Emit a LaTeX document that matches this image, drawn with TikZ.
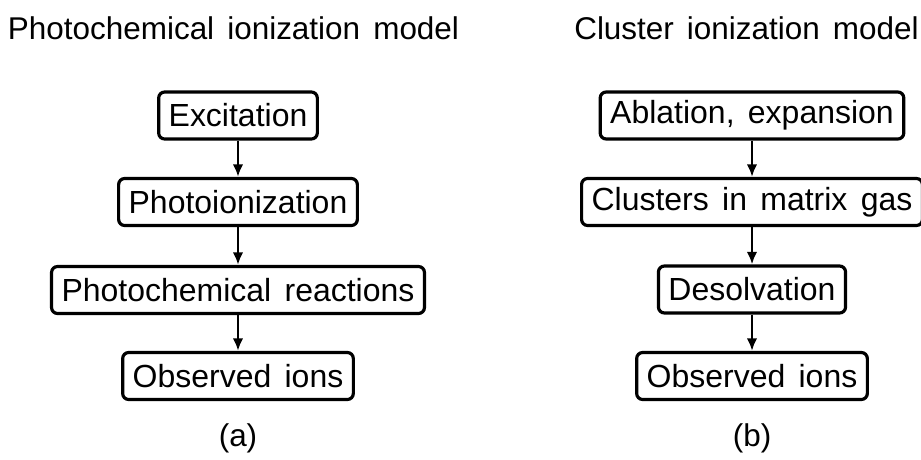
\documentclass[tikz,border=0pt]{standalone}
\usepackage{fontspec}
\setmainfont[WordSpace=1.5]{Liberation Sans}
\usetikzlibrary{arrows.meta}
\usetikzlibrary{calc}

\tikzset{
    stage/.style = {draw = black, rounded corners = 0.12cm, line width = 1.8pt,
                    inner xsep = 0.2cm, minimum height = 0.94cm,
                    font = \fontsize{18.2}{22}\selectfont},
    flow/.style = {-{Latex[length = 0.25cm, width = 0.21cm]}, line width = 1.5pt},
    heading/.style = {font = \fontsize{17.9}{22}\selectfont}
}

\begin{document}
\begin{tikzpicture}

\useasboundingbox (0,0) rectangle (18.42,-9.18);

\pgfmathsetmacro{\xa}{4.76}
\pgfmathsetmacro{\xb}{15.04}

% titles
\node[heading] (titleA) at (4.67,-0.56) {Photochemical ionization model};
\node[heading] (titleB) at (14.93,-0.56) {Cluster ionization model};

% (a) photochemical
\foreach \ROW/\Y/\TEXT in {
                        1/-2.31/ Excitation,
                        2/-4.04/ Photoionization,
                        3/-5.80/ Photochemical reactions,
                        4/-7.52/ Observed ions}{
    \node[stage] (A\ROW) at (\xa,\Y) {\TEXT};
    };

% (b) cluster
\foreach \ROW/\Y/\TEXT in {
                        1/-2.31/ {Ablation, expansion},
                        2/-4.04/ Clusters in matrix gas,
                        3/-5.79/ Desolvation,
                        4/-7.52/ Observed ions}{
    \node[stage] (B\ROW) at (\xb,\Y) {\TEXT};
    };

\foreach \FROM/\TO in {1/2, 2/3, 3/4}{
    \draw[flow] (A\FROM) -- (A\TO);
    \draw[flow] (B\FROM) -- (B\TO);
    };

\node[heading] (capA) at (\xa,-8.76) {(a)};
\node[heading] (capB) at (\xb,-8.76) {(b)};

\end{tikzpicture}
\end{document}
